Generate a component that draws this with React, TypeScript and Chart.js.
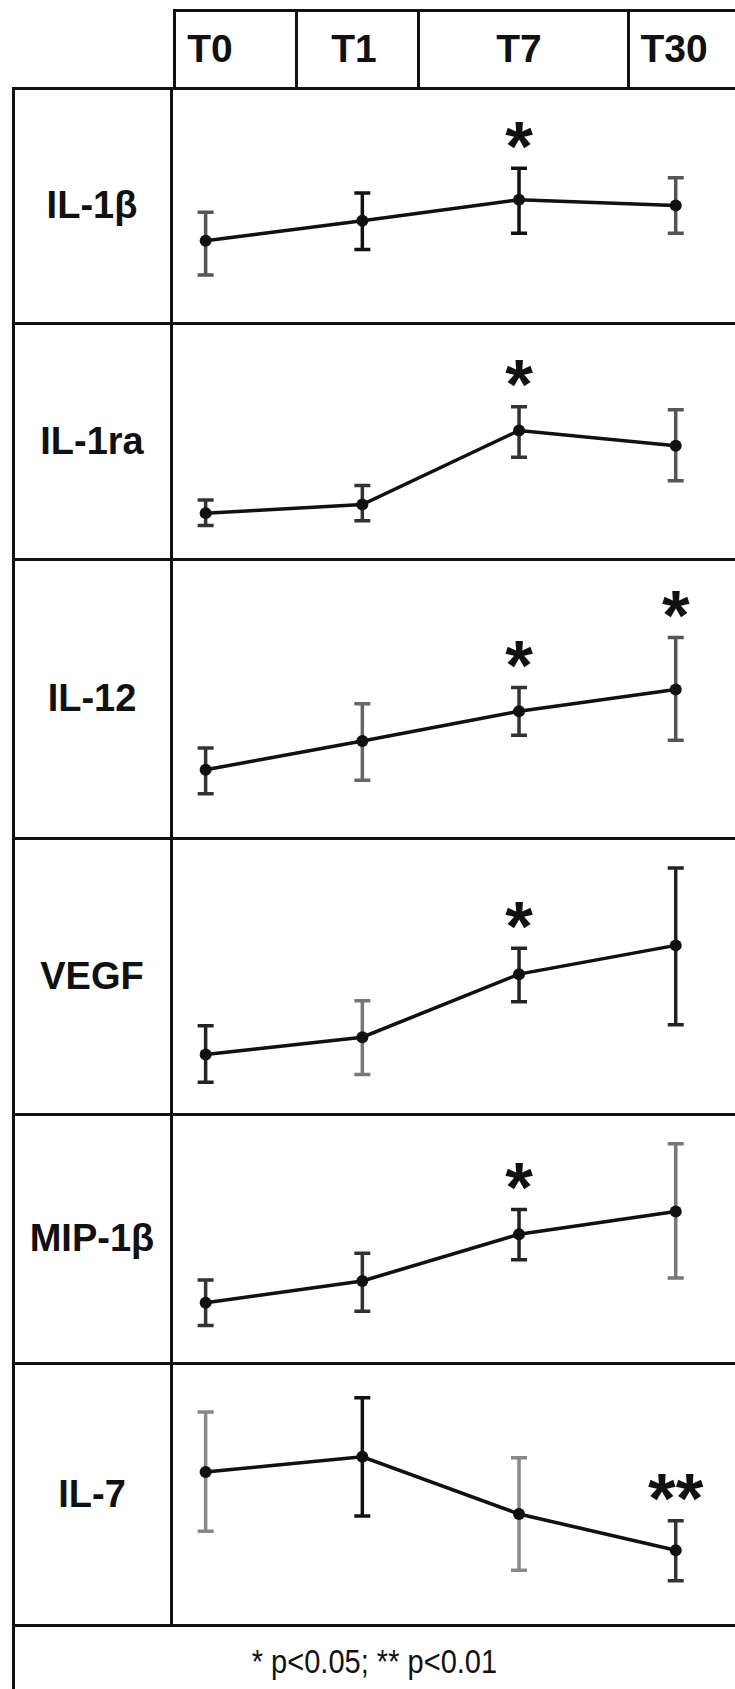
import React, { useEffect, useRef } from "react";
import { Chart, registerables } from "chart.js";

Chart.register(...registerables);

// ---------------- data (relative levels, 0–100 of each panel) ----------------
const timepoints = ["T0", "T1", "T7", "T30"];
const markerNames = ["IL-1β", "IL-1ra", "IL-12", "VEGF", "MIP-1β", "IL-7"];

const il1bMean = [34.2, 43.2, 52.6, 50.0];
const il1bLow = [18.8, 30.3, 37.6, 37.6];
const il1bHigh = [47.0, 55.6, 66.7, 62.4];
const il1bSig = ["", "", "*", ""];

const il1raMean = [17.8, 21.6, 54.7, 47.9];
const il1raLow = [12.3, 14.4, 42.8, 32.2];
const il1raHigh = [23.7, 30.1, 65.3, 64.0];
const il1raSig = ["", "", "*", ""];

const il12Mean = [23.3, 34.1, 45.2, 53.4];
const il12Low = [14.3, 19.4, 36.2, 34.4];
const il12High = [31.5, 48.0, 54.1, 72.8];
const il12Sig = ["", "", "*", "*"];

const vegfMean = [20.3, 26.8, 50.7, 61.6];
const vegfLow = [9.8, 12.7, 40.2, 31.5];
const vegfHigh = [31.2, 40.6, 60.5, 90.9];
const vegfSig = ["", "", "*", ""];

const mip1bMean = [22.9, 32.1, 51.8, 61.4];
const mip1bLow = [13.3, 19.3, 41.0, 33.3];
const mip1bHigh = [32.5, 43.8, 62.2, 90.0];
const mip1bSig = ["", "", "*", ""];

const il7Mean = [58.8, 64.9, 42.0, 27.5];
const il7Low = [35.1, 41.2, 19.5, 15.3];
const il7High = [82.8, 88.5, 64.5, 39.3];
const il7Sig = ["", "", "", "**"];

const footnote = "* p<0.05; ** p<0.01";

// ---------------- styles / layout ----------------
const PAGE_W = 735;
const PAGE_H = 1689;
const rowEdges = [88, 323, 559, 838, 1114, 1363, 1625];
const tableLeft = 13;
const labelColRight = 171;
const headerTop = 10;
const headerLeft = 174;
const headerDividers = [296, 418, 628];
const headerLabelCenters = [210, 354, 519, 674];
const plotLeft = 173;
const plotWidth = PAGE_W - plotLeft;
const X_MIN = -0.17;
const X_MAX = 3.34;
const LINE = 3;
const INK = "#111";

// error-bar tones (scan shading)
const barTones = [
  ["#555", "#111", "#111", "#555"],
  ["#333", "#333", "#333", "#555"],
  ["#333", "#666", "#333", "#555"],
  ["#222", "#777", "#222", "#222"],
  ["#333", "#333", "#222", "#777"],
  ["#888", "#111", "#888", "#333"],
];

type Panel = { name: string; mean: number[]; low: number[]; high: number[]; sig: string[] };

const panels: Panel[] = [
  { name: markerNames[0], mean: il1bMean, low: il1bLow, high: il1bHigh, sig: il1bSig },
  { name: markerNames[1], mean: il1raMean, low: il1raLow, high: il1raHigh, sig: il1raSig },
  { name: markerNames[2], mean: il12Mean, low: il12Low, high: il12High, sig: il12Sig },
  { name: markerNames[3], mean: vegfMean, low: vegfLow, high: vegfHigh, sig: vegfSig },
  { name: markerNames[4], mean: mip1bMean, low: mip1bLow, high: mip1bHigh, sig: mip1bSig },
  { name: markerNames[5], mean: il7Mean, low: il7Low, high: il7High, sig: il7Sig },
];

function PanelChart({ panel, tones, top, height }: { panel: Panel; tones: string[]; top: number; height: number }) {
  const ref = useRef<HTMLCanvasElement>(null);
  useEffect(() => {
    const canvas = ref.current as HTMLCanvasElement;
    const errorBars = {
      id: "errorBars",
      beforeDatasetsDraw(chart: any) {
        const { ctx } = chart;
        const x = chart.scales.x;
        const y = chart.scales.y;
        ctx.save();
        ctx.lineWidth = 3.5;
        ctx.lineCap = "butt";
        panel.low.forEach((lo, i) => {
          const px = x.getPixelForValue(i);
          const pl = y.getPixelForValue(lo);
          const ph = y.getPixelForValue(panel.high[i]);
          ctx.strokeStyle = tones[i];
          ctx.beginPath();
          ctx.moveTo(px, pl);
          ctx.lineTo(px, ph);
          ctx.moveTo(px - 8, pl);
          ctx.lineTo(px + 8, pl);
          ctx.moveTo(px - 8, ph);
          ctx.lineTo(px + 8, ph);
          ctx.stroke();
        });
        ctx.restore();
      },
      afterDatasetsDraw(chart: any) {
        const { ctx } = chart;
        const x = chart.scales.x;
        const y = chart.scales.y;
        ctx.save();
        ctx.fillStyle = INK;
        ctx.textAlign = "center";
        ctx.textBaseline = "alphabetic";
        ctx.font = "bold 100px 'Liberation Sans', Arial, sans-serif";
        const probe = ctx.measureText("*");
        const inkH = probe.actualBoundingBoxAscent + probe.actualBoundingBoxDescent || 30;
        const size = (100 * 27) / inkH;
        ctx.font = `bold ${size}px 'Liberation Sans', Arial, sans-serif`;
        panel.sig.forEach((s, i) => {
          if (!s) return;
          const px = x.getPixelForValue(i);
          const cy = y.getPixelForValue(panel.high[i]) - 33;
          const m = ctx.measureText(s);
          const base = cy + (m.actualBoundingBoxAscent - m.actualBoundingBoxDescent) / 2;
          ctx.fillText(s, px, base);
        });
        ctx.restore();
      },
    };
    const chart = new Chart(canvas, {
      type: "line",
      data: {
        datasets: [
          {
            label: panel.name,
            data: panel.mean.map((v, i) => ({ x: i, y: v })),
            borderColor: INK,
            borderWidth: 3.5,
            pointRadius: 6,
            pointHoverRadius: 6,
            pointBackgroundColor: INK,
            pointBorderWidth: 0,
            tension: 0,
            fill: false,
          },
        ],
      },
      options: {
        animation: false,
        responsive: false,
        events: [],
        layout: { padding: 0 },
        plugins: { legend: { display: false }, tooltip: { enabled: false } },
        scales: {
          x: { type: "linear", min: X_MIN, max: X_MAX, display: false },
          y: { type: "linear", min: 0, max: 100, display: false },
        },
      },
      plugins: [errorBars],
    } as any);
    return () => chart.destroy();
  }, [panel, tones, height]);
  return (
    <canvas
      ref={ref}
      width={plotWidth}
      height={height}
      style={{ position: "absolute", left: plotLeft, top, width: plotWidth, height }}
    />
  );
}

const hLine = (left: number, right: number, y: number, key: string) => (
  <div key={key} style={{ position: "absolute", left, top: y - LINE / 2, width: right - left, height: LINE, background: INK, zIndex: 2 }} />
);
const vLine = (x: number, top: number, bottom: number, key: string) => (
  <div key={key} style={{ position: "absolute", left: x - LINE / 2, top, width: LINE, height: bottom - top, background: INK, zIndex: 2 }} />
);

export default function App() {
  const lines: any[] = [];
  // header box
  lines.push(hLine(headerLeft - 1.5, PAGE_W, headerTop, "ht"));
  lines.push(vLine(headerLeft, headerTop - 1.5, rowEdges[0], "hl"));
  headerDividers.forEach((d, i) => lines.push(vLine(d, headerTop - 1.5, rowEdges[0], "hd" + i)));
  // table
  rowEdges.forEach((e, i) => lines.push(hLine(tableLeft - 1.5, PAGE_W, e, "r" + i)));
  lines.push(vLine(tableLeft, rowEdges[0] - 1.5, PAGE_H, "tl"));
  lines.push(vLine(labelColRight, rowEdges[0] - 1.5, rowEdges[rowEdges.length - 1] + 1.5, "lc"));

  return (
    <div
      style={{
        position: "absolute",
        left: 0,
        top: 0,
        width: PAGE_W,
        height: PAGE_H,
        background: "#fff",
        overflow: "hidden",
        fontFamily: "'Liberation Sans', Arial, sans-serif",
        color: INK,
      }}
    >
      {timepoints.map((t, i) => (
        <div
          key={t}
          style={{
            position: "absolute",
            left: headerLabelCenters[i] - 60,
            width: 120,
            top: headerTop,
            height: rowEdges[0] - headerTop,
            lineHeight: `${rowEdges[0] - headerTop}px`,
            textAlign: "center",
            fontWeight: "bold",
            fontSize: 39,
          }}
        >
          {t}
        </div>
      ))}
      {panels.map((p, i) => (
        <div
          key={p.name}
          style={{
            position: "absolute",
            left: tableLeft,
            width: labelColRight - tableLeft,
            top: rowEdges[i],
            height: rowEdges[i + 1] - rowEdges[i],
            display: "flex",
            alignItems: "center",
            justifyContent: "center",
            fontWeight: "bold",
            fontSize: 38,
          }}
        >
          {p.name}
        </div>
      ))}
      {panels.map((p, i) => (
        <PanelChart
          key={"c" + i}
          panel={p}
          tones={barTones[i]}
          top={rowEdges[i]}
          height={rowEdges[i + 1] - rowEdges[i]}
        />
      ))}
      <div
        style={{
          position: "absolute",
          left: tableLeft,
          width: PAGE_W - tableLeft,
          top: 1630,
          height: 64,
          lineHeight: "64px",
          textAlign: "center",
          fontSize: 33,
        }}
      >
        <span style={{ display: "inline-block", transform: "scaleX(0.88)", transformOrigin: "center" }}>{footnote}</span>
      </div>
      {lines}
    </div>
  );
}
